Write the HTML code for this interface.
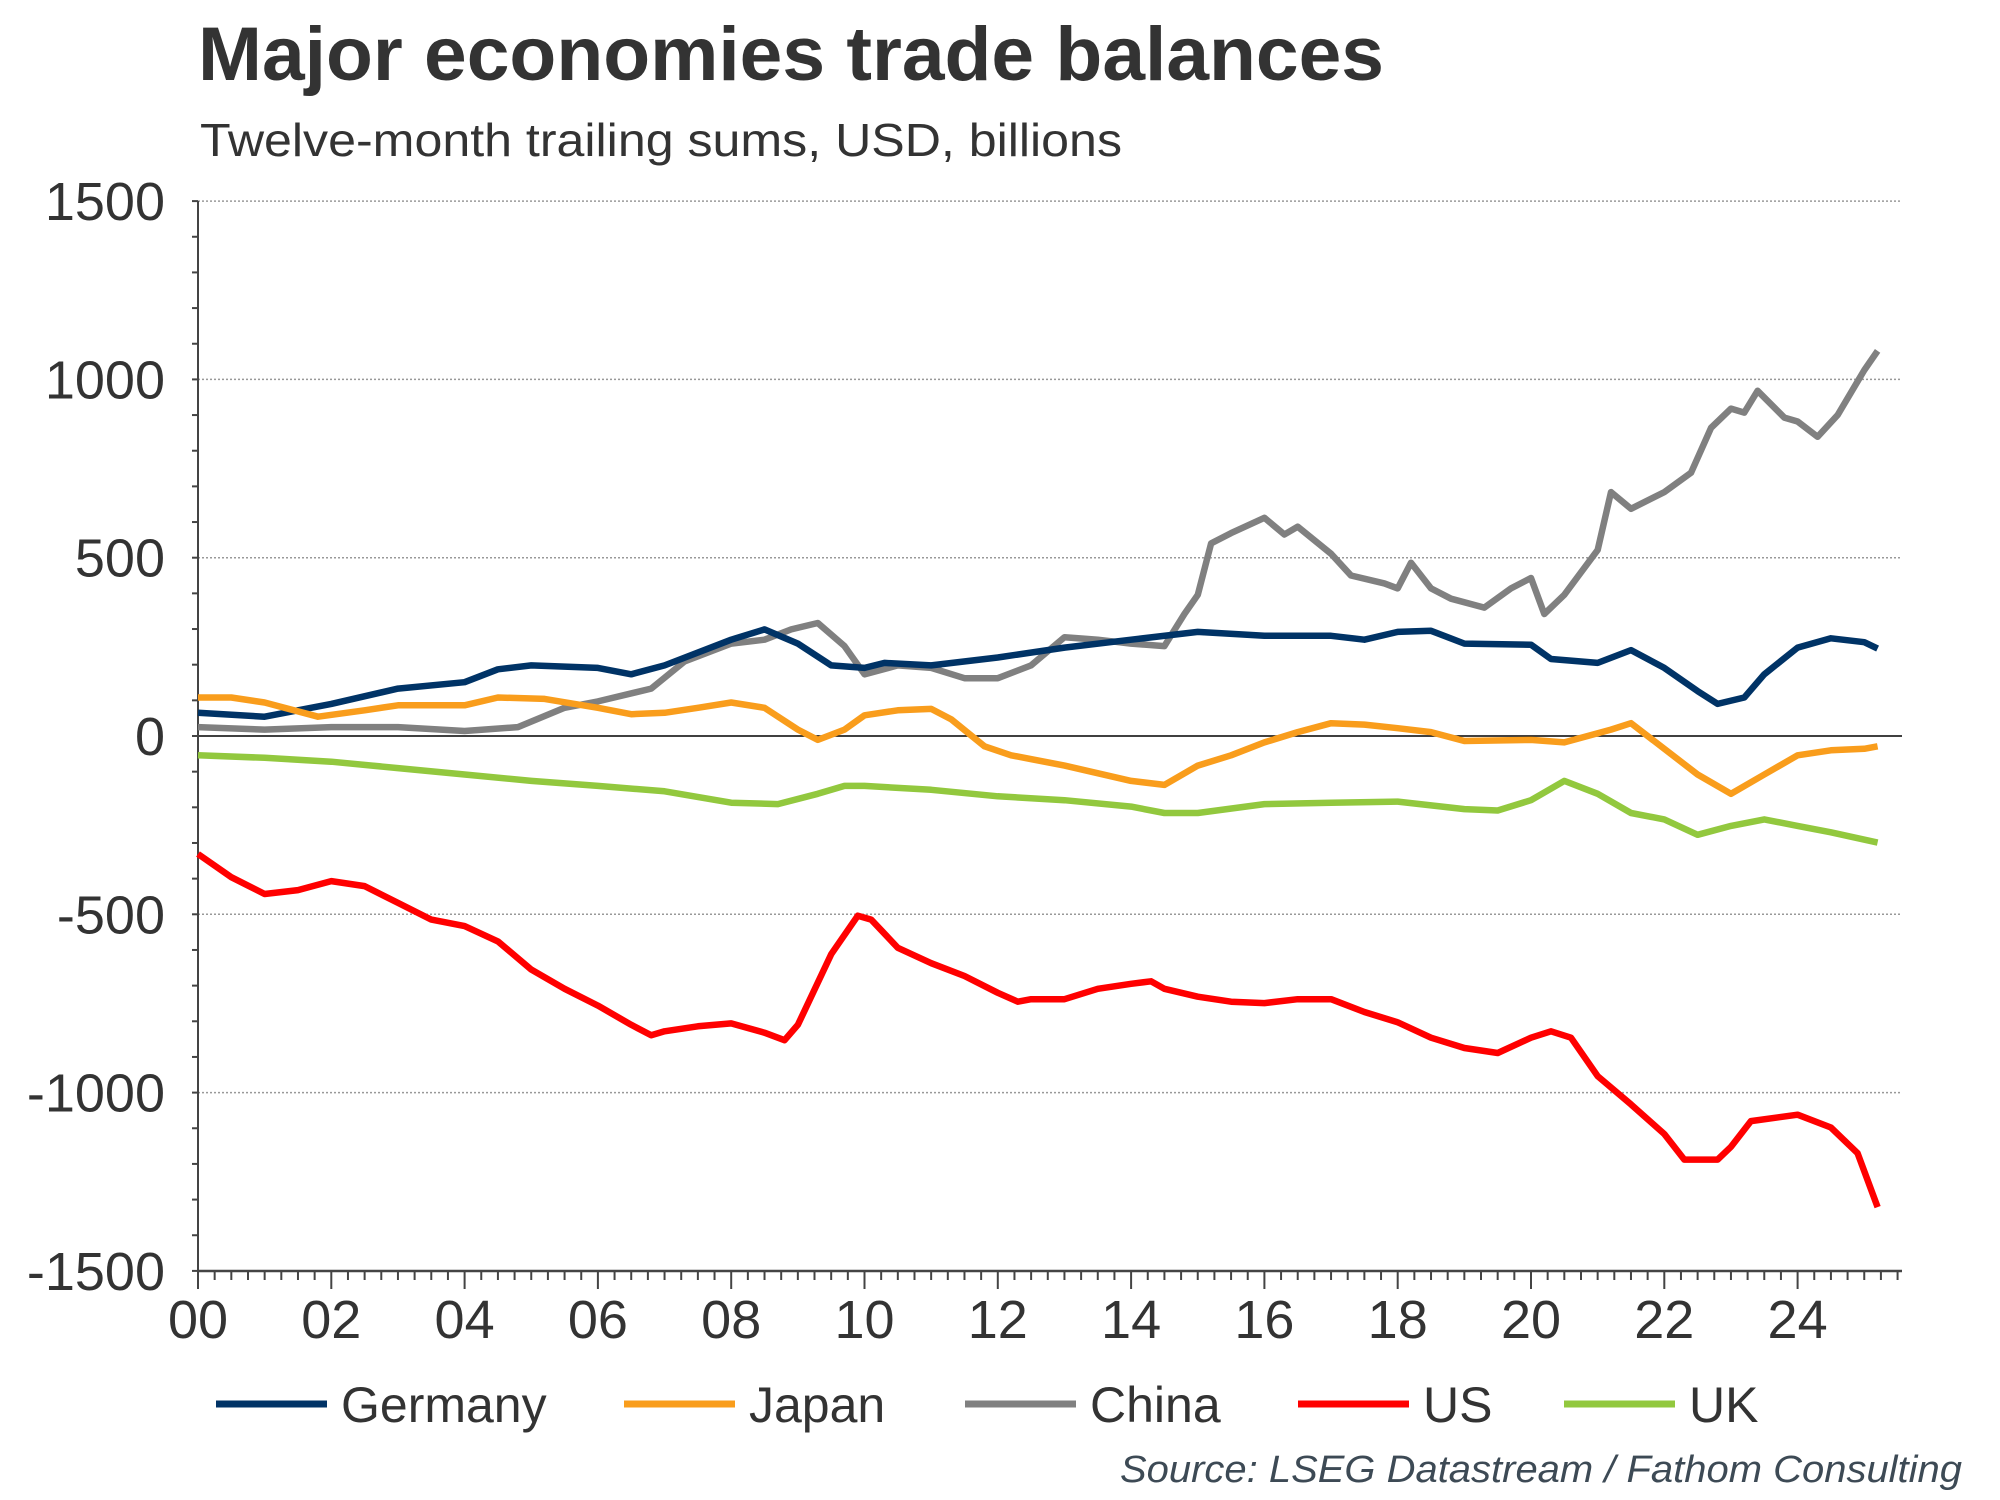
<!DOCTYPE html>
<html><head><meta charset="utf-8"><style>
html,body{margin:0;padding:0;background:#fff;width:2000px;height:1500px;overflow:hidden}
svg{display:block}
text{font-family:"Liberation Sans Narrow","Liberation Sans",sans-serif;fill:#333}
</style></head><body>
<svg id="chart" width="2000" height="1500" viewBox="0 0 2000 1500" xmlns="http://www.w3.org/2000/svg">
<text x="198" y="80" font-size="76" font-weight="bold" textLength="1186" lengthAdjust="spacingAndGlyphs">Major economies trade balances</text>
<text x="200" y="156" font-size="46" textLength="922" lengthAdjust="spacingAndGlyphs">Twelve-month trailing sums, USD, billions</text>
<g id="grid"></g><g id="axes"></g><g id="series"></g><g id="legend"></g>
<text x="1962" y="1482" font-size="38" font-style="italic" text-anchor="end" style="fill:#3d4a55" textLength="842" lengthAdjust="spacingAndGlyphs">Source: LSEG Datastream / Fathom Consulting</text>
</svg>
<script>
const yTicks=[1500,1000,500,0,-500,-1000,-1500];
const xTickYears=[0,2,4,6,8,10,12,14,16,18,20,22,24];
const xTickLabels=["00","02","04","06","08","10","12","14","16","18","20","22","24"];
const seriesNames=["Germany","Japan","China","US","UK"];
const seriesColors=["#003366","#f99d1c","#808080","#ff0000","#92c83e"];
const germanyT=[0,1,2,3,4,4.5,5,6,6.5,7,8,8.5,9,9.5,10,10.3,11,12,13,14,15,16,17,17.5,18,18.5,19,20,20.3,21,21.5,22,22.5,22.8,23.2,23.5,24,24.5,25,25.2];
const germanyV=[65,54,90,133,151,187,198,191,173,198,270,299,259,198,191,205,198,220,248,270,292,281,281,270,292,295,259,256,216,205,241,191,126,90,108,173,248,274,263,245];
const japanT=[0,0.5,1,1.8,2.5,3,4,4.5,5.2,6,6.5,7,7.5,8,8.5,9,9.3,9.7,10,10.5,11,11.3,11.8,12.2,13,14,14.5,15,15.5,16,16.5,17,17.5,18,18.5,19,20,20.5,21.2,21.5,22,22.5,23,23.5,24,24.5,25,25.2];
const japanV=[108,108,94,54,72,86,86,108,104,79,61,65,79,94,79,18,-11,18,58,72,76,47,-29,-54,-83,-126,-137,-83,-54,-18,11,36,32,22,11,-14,-11,-18,18,36,-36,-108,-162,-108,-54,-40,-36,-29];
const chinaT=[0,1,2,3,4,4.8,5.5,6,6.8,7.3,8,8.5,8.9,9.3,9.7,10,10.5,11,11.5,12,12.5,13,13.5,14,14.5,14.8,15,15.2,15.5,16,16.3,16.5,17,17.3,17.8,18,18.2,18.5,18.8,19.3,19.7,20,20.2,20.5,21,21.2,21.5,22,22.4,22.7,23,23.2,23.4,23.8,24,24.3,24.6,25,25.2];
const chinaV=[25,18,25,25,14,25,79,97,133,209,259,270,299,317,252,173,198,191,162,162,198,277,270,259,252,342,396,540,569,612,565,587,511,450,428,414,486,414,385,360,414,443,342,396,522,684,637,684,738,864,918,907,968,893,882,839,900,1026,1080];
const usT=[0,0.5,1,1.5,2,2.5,3,3.5,4,4.5,5,5.5,6,6.5,6.8,7,7.5,8,8.5,8.8,9,9.5,9.9,10.1,10.5,11,11.5,12,12.3,12.5,13,13.5,14,14.3,14.5,15,15.5,16,16.5,17,17.5,18,18.5,19,19.5,20,20.3,20.6,21,21.5,22,22.3,22.8,23,23.3,24,24.5,24.9,25.2];
const usV=[-331,-396,-443,-432,-407,-421,-468,-515,-533,-576,-655,-709,-756,-810,-839,-828,-814,-806,-832,-853,-810,-612,-504,-515,-594,-637,-673,-720,-745,-738,-738,-709,-695,-688,-709,-731,-745,-749,-738,-738,-774,-803,-846,-875,-889,-846,-828,-846,-954,-1033,-1116,-1188,-1188,-1152,-1080,-1062,-1098,-1170,-1321];
const ukT=[0,1,2,3,4,5,6,7,8,8.7,9.3,9.7,10,11,12,13,14,14.5,15,16,17,18,19,19.5,20,20.5,21,21.5,22,22.5,23,23.5,24,24.5,25.2];
const ukV=[-54,-61,-72,-90,-108,-126,-140,-155,-187,-191,-162,-140,-140,-151,-169,-180,-198,-216,-216,-191,-187,-184,-205,-209,-180,-126,-162,-216,-234,-277,-252,-234,-252,-270,-299];

const NS="http://www.w3.org/2000/svg";
const X0=198,YEARPX=66.65,Y0=736,VPX=178.3/500,XEND=1902,YTOP=201,YBOT=1271;
const xs=t=>X0+t*YEARPX;
const ys=v=>Y0-v*VPX;
function mk(tag,attrs,parent){const e=document.createElementNS(NS,tag);for(const k in attrs)e.setAttribute(k,attrs[k]);parent.appendChild(e);return e;}
const grid=document.getElementById('grid'),axes=document.getElementById('axes'),ser=document.getElementById('series'),leg=document.getElementById('legend');
yTicks.forEach(v=>{
  if(v!==-1500&&v!==0){const g=mk('line',{x1:X0,x2:XEND,y1:ys(v),y2:ys(v),stroke:'#999','stroke-width':1.5,'stroke-dasharray':'2,2'},grid);
  
  }
  const t=mk('text',{x:165,y:ys(v)+19,'font-size':54,'text-anchor':'end'},axes);t.textContent=String(v);
  
  
});
for(let v=-1500;v<=1500;v+=100){mk('line',{x1:X0-6,x2:X0,y1:ys(v),y2:ys(v),stroke:'#444','stroke-width':2},axes);}
const zl=mk('line',{x1:X0,x2:XEND,y1:ys(0),y2:ys(0),stroke:'#000','stroke-width':1.5},axes);


const ya=mk('line',{x1:X0,x2:X0,y1:YTOP,y2:YBOT,stroke:'#444','stroke-width':2},axes);


const xa=mk('line',{x1:X0,x2:XEND,y1:YBOT,y2:YBOT,stroke:'#444','stroke-width':2.5},axes);


for(let q=0;xs(q/4)<=XEND;q++){const major=q%8===0;mk('line',{x1:xs(q/4),x2:xs(q/4),y1:YBOT,y2:YBOT+(major?18:9),stroke:'#444','stroke-width':2},axes);}
xTickYears.forEach((yr,i)=>{const t=mk('text',{x:xs(yr),y:YBOT+67,'font-size':54,'text-anchor':'middle'},axes);t.textContent=xTickLabels[i];
  
  });
const allT=[germanyT,japanT,chinaT,usT,ukT],allV=[germanyV,japanV,chinaV,usV,ukV];
[2,0,1,4,3].forEach(i=>{
  const d=allT[i].map((t,j)=>(j?'L':'M')+xs(t).toFixed(1)+','+ys(allV[i][j]).toFixed(1)).join('');
  const p=mk('path',{d:d,fill:'none',stroke:seriesColors[i],'stroke-width':6.5,'stroke-linejoin':'round'},ser);
  
  
});
const legLineX=[216,624,965,1298,1564];
seriesNames.forEach((n,i)=>{
  const g=mk('g',{},leg);
  
  
  mk('line',{x1:legLineX[i],x2:legLineX[i]+111,y1:1404,y2:1404,stroke:seriesColors[i],'stroke-width':7},g);
  const t=mk('text',{x:legLineX[i]+125,y:1422,'font-size':50},g);t.textContent=n;
});
</script>
</body></html>
